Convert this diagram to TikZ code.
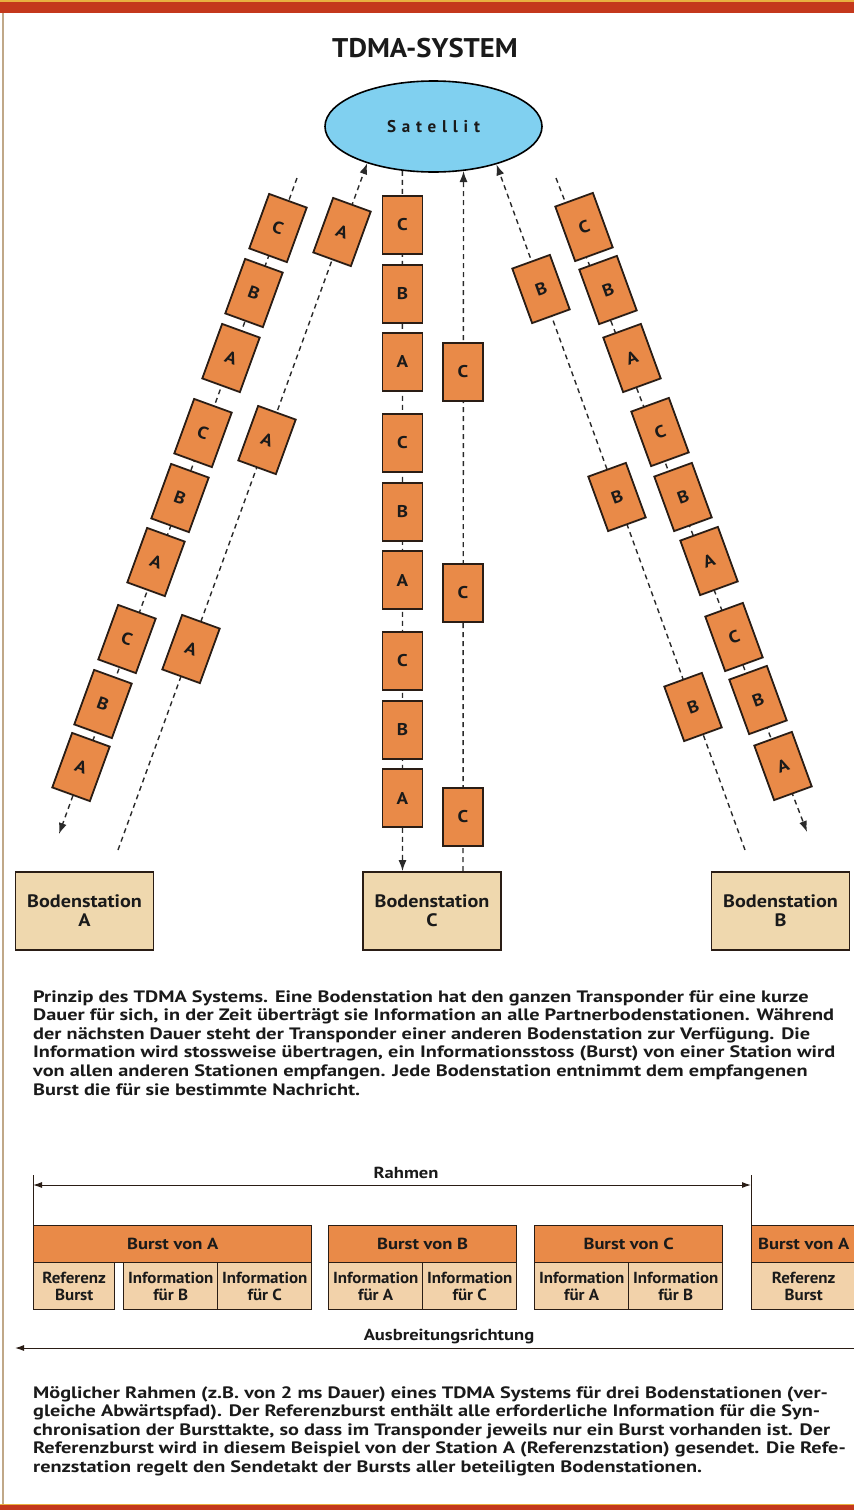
\documentclass[tikz,border=0pt]{standalone}
\usepackage{fontspec}
\setmainfont{PT Sans}
\newfontfamily\satfont[LetterSpace=34]{PT Sans}
\newfontfamily\parafont[FakeStretch=1.23]{PT Sans}
\newfontfamily\lblfont[FakeStretch=1.16]{PT Sans}
\newfontfamily\subfont[FakeStretch=1.06]{PT Sans}
\newfontfamily\stfont[FakeStretch=1.12]{PT Sans}
\newfontfamily\titlefont[FakeStretch=1.06]{PT Sans}
\usetikzlibrary{arrows.meta,shapes.geometric,calc}
\definecolor{redband}{HTML}{C4381C}
\definecolor{yelline}{HTML}{E8B040}
\definecolor{leftline}{HTML}{C0A888}
\definecolor{satblue}{HTML}{80D0F0}
\definecolor{orng}{HTML}{E98A48}
\definecolor{tanst}{HTML}{EFD8AE}
\definecolor{tansub}{HTML}{F2D2AA}
\definecolor{outl}{HTML}{2A1D15}
\definecolor{dashc}{HTML}{2A2A2A}
\definecolor{txt}{HTML}{1A1A1A}
\begin{document}
\begin{tikzpicture}[x=1pt,y=-1pt,
  box/.style={draw=outl, line width=1.8pt, fill=orng, minimum width=40pt, minimum height=58pt, inner sep=0pt, text=txt, font=\stfont\bfseries\fontsize{17}{17}\selectfont},
  lbox/.style={box, rotate=-20},
  rbox/.style={box, rotate=20},
  station/.style={draw=outl, line width=1.8pt, fill=tanst, minimum width=138pt, minimum height=78pt, inner sep=0pt, align=center, text=txt, font=\stfont\bfseries\fontsize{18}{19}\selectfont},
  dline/.style={draw=dashc, line width=1.4pt, dash pattern=on 5pt off 4pt},
  arr/.style={-{Latex[length=11pt,width=8pt]}},
  hdr/.style={draw=outl, line width=1.4pt, fill=orng, minimum height=37pt, inner sep=0pt, anchor=north west, text=txt, font=\lblfont\bfseries\fontsize{16}{18}\selectfont},
  sub/.style={draw=outl, line width=1.4pt, fill=tansub, minimum height=47pt, inner sep=0pt, anchor=north west, align=center, text=txt, font=\subfont\bfseries\fontsize{16}{17.5}\selectfont},
  para/.style={anchor=north west, align=left, inner sep=0pt, text=txt, font=\parafont\bfseries\fontsize{16.5}{18.6}\selectfont},
  lbl/.style={inner sep=0pt, text=txt, font=\lblfont\bfseries\fontsize{16}{18}\selectfont}
]
\useasboundingbox (0,0) rectangle (854,1510);
\clip (0,0) rectangle (854,1510);
% frame
\fill[redband] (0,0) rectangle (854,13);
\fill[yelline] (0,0) rectangle (854,2);
\fill[redband] (0,1505) rectangle (854,1510);
\fill[yelline] (0,1503.5) rectangle (854,1505);
\fill[leftline] (2,13) rectangle (3.5,1504);

% title
\node[inner sep=0pt, text=txt, font=\titlefont\bfseries\fontsize{27}{30}\selectfont] (title) at (425,48) {TDMA-SYSTEM};

% satellite
\node[ellipse, draw=black, line width=1.6pt, fill=satblue, minimum width=217pt, minimum height=91pt, inner sep=0pt, text=txt, font=\satfont\bfseries\fontsize{17}{17}\selectfont] (sat) at (433.5,126.5) {Satellit};

% stations
\node[station] (stA) at (84.5,911) {Bodenstation\\A};
\node[station] (stC) at (432,911) {Bodenstation\\C};
\node[station] (stB) at (780.5,911) {Bodenstation\\B};

% free ends
\coordinate (tL) at (297,178);
\coordinate (eL) at (59,834);
\coordinate (bA) at (118,850);
\coordinate (bB) at (745,850);
\coordinate (tR) at (556,178);
\coordinate (eR) at (807,832);
\coordinate (mx) at (402.5,0);
\coordinate (rx) at (463,0);

% connectors
\draw[dline, arr] (tL) -- (eL);
\draw[dline, arr] (bA) -- (sat.-151.3);
\draw[dline, arr] (sat.-125.1) -- (stC.north -| mx);
\draw[dline, arr] (stC.north -| rx) -- (sat.-56.3);
\draw[dline, arr] (bB) -- (sat.-31.2);
\draw[dline, arr] (tR) -- (eR);

% left outer chain
\node[lbox] (l1) at (278,228) {C};
\node[lbox] (l2) at (254,293) {B};
\node[lbox] (l3) at (231,358) {A};
\node[lbox] (l4) at (203,433) {C};
\node[lbox] (l5) at (180,498) {B};
\node[lbox] (l6) at (156,562) {A};
\node[lbox] (l7) at (127,639) {C};
\node[lbox] (l8) at (103,704) {B};
\node[lbox] (l9) at (81,767) {A};
% left A chain
\node[lbox] (a1) at (342,232) {A};
\node[lbox] (a2) at (267,440) {A};
\node[lbox] (a3) at (191,649) {A};
% middle chain
\node[box] (m1) at (402.5,225) {C};
\node[box] (m2) at (402.5,294) {B};
\node[box] (m3) at (402.5,362) {A};
\node[box] (m4) at (402.5,443) {C};
\node[box] (m5) at (402.5,512) {B};
\node[box] (m6) at (402.5,580) {A};
\node[box] (m7) at (402.5,661) {C};
\node[box] (m8) at (402.5,730) {B};
\node[box] (m9) at (402.5,798) {A};
% right C column
\node[box] (c1) at (463,372) {C};
\node[box] (c2) at (463,593) {C};
\node[box] (c3) at (463,817) {C};
% right B chain
\node[rbox] (b1) at (541,289) {B};
\node[rbox] (b2) at (617,497) {B};
\node[rbox] (b3) at (693,707) {B};
% right outer chain
\node[rbox] (r1) at (584,227) {C};
\node[rbox] (r2) at (608,290) {B};
\node[rbox] (r3) at (632,358) {A};
\node[rbox] (r4) at (660,432) {C};
\node[rbox] (r5) at (683,497) {B};
\node[rbox] (r6) at (709,561) {A};
\node[rbox] (r7) at (734,637) {C};
\node[rbox] (r8) at (758,700) {B};
\node[rbox] (r9) at (783,766) {A};

% paragraph 1
\node[para] (p1) at (33,990) {Prinzip des TDMA Systems. Eine Bodenstation hat den ganzen Transponder für eine kurze\\
Dauer für sich, in der Zeit überträgt sie Information an alle Partnerbodenstationen. Während\\
der nächsten Dauer steht der Transponder einer anderen Bodenstation zur Verfügung. Die\\
Information wird stossweise übertragen, ein Informationsstoss (Burst) von einer Station wird\\
von allen anderen Stationen empfangen. Jede Bodenstation entnimmt dem empfangenen\\
Burst die für sie bestimmte Nachricht.};

% frame diagram
\node[hdr, minimum width=278pt] (hA) at (33,1225) {Burst von A};
\node[sub, minimum width=81pt] (sR) at (33,1262) {Referenz\\Burst};
\node[sub, minimum width=94pt] (sAB) at (123,1262) {Information\\für B};
\node[sub, minimum width=94pt] (sAC) at (217,1262) {Information\\für C};
\node[hdr, minimum width=188pt] (hB) at (328,1225) {Burst von B};
\node[sub, minimum width=94pt] (sBA) at (328,1262) {Information\\für A};
\node[sub, minimum width=94pt] (sBC) at (422,1262) {Information\\für C};
\node[hdr, minimum width=188pt] (hC) at (534,1225) {Burst von C};
\node[sub, minimum width=94pt] (sCA) at (534,1262) {Information\\für A};
\node[sub, minimum width=94pt] (sCB) at (628,1262) {Information\\für B};
\node[hdr, minimum width=104pt] (hA2) at (751,1225) {Burst von A};
\node[sub, minimum width=104pt] (sR2) at (751,1262) {Referenz\\Burst};

\coordinate (rL) at (33,1185);
\coordinate (rR) at (751,1185);
\draw[outl, line width=1pt] (hA.north west) -- ++(0,-50);
\draw[outl, line width=1pt] (hA2.north west) -- ++(0,-50);
\draw[outl, line width=1pt, {Latex[length=9pt,width=6pt]}-{Latex[length=9pt,width=6pt]}] (rL) -- (rR);
\node[lbl] (rahmen) at (406,1173) {Rahmen};

\coordinate (aR) at (854,1348);
\coordinate (aL) at (15,1348);
\draw[outl, line width=1pt, -{Latex[length=9pt,width=6pt]}] (aR) -- (aL);
\node[lbl] (ausb) at (449,1336) {Ausbreitungsrichtung};

% paragraph 2
\node[para] (p2) at (33,1386) {Möglicher Rahmen (z.B. von 2 ms Dauer) eines TDMA Systems für drei Bodenstationen (ver-\\
gleiche Abwärtspfad). Der Referenzburst enthält alle erforderliche Information für die Syn-\\
chronisation der Bursttakte, so dass im Transponder jeweils nur ein Burst vorhanden ist. Der\\
Referenzburst wird in diesem Beispiel von der Station A (Referenzstation) gesendet. Die Refe-\\
renzstation regelt den Sendetakt der Bursts aller beteiligten Bodenstationen.};
\end{tikzpicture}
\end{document}
